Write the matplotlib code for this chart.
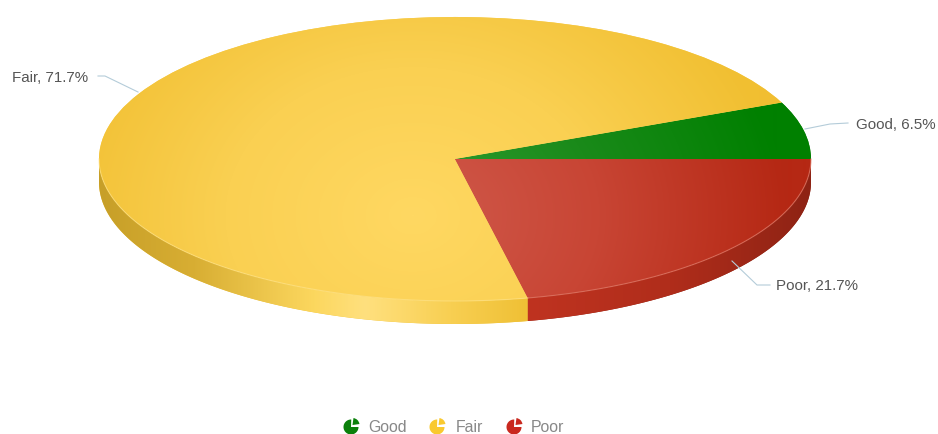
import numpy as np
import matplotlib
matplotlib.use('Agg')
import matplotlib.pyplot as plt
from matplotlib.colors import LinearSegmentedColormap
from matplotlib.patches import Polygon, Wedge

plt.rcParams['font.family'] = ['Liberation Sans', 'DejaVu Sans']

names = ['Good', 'Fair', 'Poor']
values = [6.5, 71.7, 21.7]
label_text = ['Good, 6.5%', 'Fair, 71.7%', 'Poor, 21.7%']

W, H = 938, 434
cx, cy, rx, ry = 455, 159, 356, 142
depth = 23 / ry

top_cols = {
    'Good': ['#35a035', '#1a8a1a', '#008000'],
    'Fair': ['#ffd862', '#fad052', '#f1bf31'],
    'Poor': ['#d05a4c', '#c84534', '#b52814'],
}
side_stops = {
    'Fair': [(0, '#c79f28'), (0.22, '#d8ae33'), (0.50, '#fcd75e'), (0.62, '#ffe07e'),
             (0.82, '#f8cf52'), (1, '#efc035')],
    'Poor': [(0, '#bf3320'), (0.5, '#b02d1b'), (1, '#8e2314')],
}
legend_cols = ['#0b800b', '#f9c92f', '#c9291f']

fig = plt.figure(figsize=(W / 100, H / 100), dpi=100)
ax = fig.add_axes([0, 0, 1, 1])

wedges, _ = ax.pie(values, labels=None, startangle=0, counterclock=True, radius=1,
                   center=(0, 0), colors=[top_cols[n][1] for n in names], frame=False)

# squash the circle into the tilted ellipse
xlim = (-cx / rx, (W - cx) / rx)
ylim = ((cy - H) / ry, cy / ry)
ax.set_aspect('auto')
ax.set_xlim(xlim)
ax.set_ylim(ylim)
ax.axis('off')

gx, gy = np.meshgrid(np.linspace(*xlim, W), np.linspace(ylim[1], ylim[0], H))

# rim of the disc, front half only
edges = np.cumsum([0] + values) / sum(values) * 360
side_spans = {'Fair': (180, edges[2]), 'Poor': (edges[2], 360)}
for name, (a0, a1) in side_spans.items():
    t = np.radians(np.linspace(a0, a1, 200))
    upper = np.column_stack([np.cos(t), np.sin(t)])
    lower = upper[::-1] - [0, depth]
    wall = Polygon(np.vstack([upper, lower]), closed=True, fc=side_stops[name][-1][1],
                   ec='none', zorder=1)
    ax.add_patch(wall)
    cmap = LinearSegmentedColormap.from_list(name + '_side', side_stops[name])
    x0, x1 = np.cos(t).min(), np.cos(t).max()
    im = ax.imshow(np.clip((gx - x0) / (x1 - x0), 0, 1), extent=(*xlim, *ylim), cmap=cmap,
                   vmin=0, vmax=1, aspect='auto', zorder=1.5, interpolation='bilinear')
    im.set_clip_path(wall)

# shading on the top face
dist = np.hypot(gx + 0.12, (gy + 0.4) * 0.5)
for wedge, name in zip(wedges, names):
    wedge.set_zorder(2)
    cmap = LinearSegmentedColormap.from_list(name + '_top', top_cols[name])
    im = ax.imshow(np.clip(dist / 1.05, 0, 1), extent=(*xlim, *ylim), cmap=cmap,
                   vmin=0, vmax=1, aspect='auto', zorder=2.5, interpolation='bilinear')
    im.set_clip_path(wedge)

# pale line where the top face meets the rim
t = np.radians(np.linspace(edges[2], 360, 200))
ax.plot(np.cos(t), np.sin(t), color='#e07a68', lw=0.8, alpha=0.7, zorder=3)
t = np.radians(np.linspace(180, edges[2], 200))
ax.plot(np.cos(t), np.sin(t), color='#ffe48c', lw=0.8, alpha=0.6, zorder=3)
ax.set_xlim(xlim)
ax.set_ylim(ylim)


# everything below is placed in figure pixels, y counted from the top
def fx(x):
    return x / W


def fy(y):
    return 1 - y / H


leaders = [
    [(848, 123), (830, 124), (805, 129)],
    [(98, 76), (105, 76), (138, 92)],
    [(770, 285), (757, 285), (732, 261)],
]
text_pos = [(856, 125, 'left'), (12, 78, 'left'), (776, 286, 'left')]
for pts, (tx, ty, ha), txt in zip(leaders, text_pos, label_text):
    xs = [fx(p[0]) for p in pts]
    ys = [fy(p[1]) for p in pts]
    fig.add_artist(plt.Line2D(xs, ys, transform=fig.transFigure, color='#b4ccd9', lw=0.8, zorder=5))
    fig.text(fx(tx), fy(ty), txt, color='#555555', fontsize=10.9, ha=ha, va='center', zorder=6)

# legend: small pie icons with their names
leg = fig.add_axes([0, 0, 1, 1])
leg.set_xlim(0, W)
leg.set_ylim(H, 0)
leg.axis('off')
icon_x = [351, 437, 514]
text_x = [368, 456, 531]
leg_y = 427
for x, tx, col, name in zip(icon_x, text_x, legend_cols, names):
    leg.add_patch(Wedge((x, leg_y), 7.5, 0, 272, fc=col, ec='none'))
    leg.add_patch(Wedge((x + 1.5, leg_y - 2), 7, 278, 352, fc=col, ec='none'))
    leg.text(tx, leg_y, name, color='#888888', fontsize=11.4, ha='left', va='center')

fig.savefig('out.png', dpi=100)
